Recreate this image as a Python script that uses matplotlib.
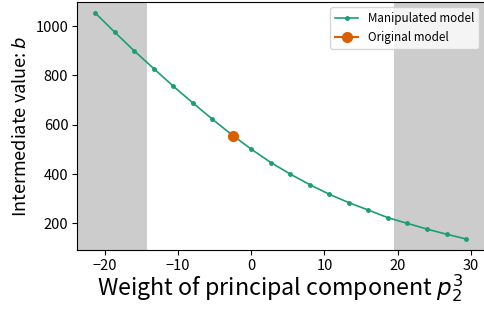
"""
Intermediate value b versus weight of principal component p_2^3.
"""
import matplotlib
matplotlib.use("Agg")
import matplotlib.pyplot as plt
import numpy as np

plt.rcParams['font.family'] = ['Noto Sans CJK JP', 'DejaVu Sans']
plt.rcParams['mathtext.fontset'] = 'dejavusans'

# manipulated model sweep
weights = [-21.33, -18.67, -16.0, -13.33, -10.67, -8.0, -5.33, -2.67, 0.0, 2.67,
           5.33, 8.0, 10.67, 13.33, 16.0, 18.67, 21.33, 24.0, 26.67, 29.33]
b_values = [1054, 976, 900, 828, 757, 689, 623, 560, 501, 447,
            400, 357, 318, 284, 254, 223, 200, 177, 156, 137]

# original model
orig_weight = [-2.5]
orig_b = [555]

# shaded regions outside observed range
shade_left = -14.2
shade_right = 19.5

fig, ax = plt.subplots(figsize=(4.85, 3.12), dpi=100)
ax.plot(weights, b_values, color='#1b9e77', marker='o', markersize=2.5,
        linewidth=1.2, label='Manipulated model')
ax.plot(orig_weight, orig_b, color='#d95f02', marker='o', markersize=7,
        linestyle='-', label='Original model')

xmin, xmax = ax.get_xlim()
ax.axvspan(xmin, shade_left, color='#cccccc', zorder=0, linewidth=0)
ax.axvspan(shade_right, xmax, color='#cccccc', zorder=0, linewidth=0)
ax.set_xlim(xmin, xmax)

ax.set_xticks([-20, -10, 0, 10, 20, 30])
ax.set_yticks([200, 400, 600, 800, 1000])
ax.tick_params(labelsize=10.5, pad=2.5)
ax.set_xlabel('Weight of principal component $p_2^3$', fontsize=16.7, labelpad=0)
ax.set_ylabel('Intermediate value: $b$', fontsize=13, labelpad=4)
ax.legend(loc='upper right', fontsize=8.4)

fig.subplots_adjust(left=0.158, right=0.999, top=0.995, bottom=0.198)
fig.savefig('out.png')
